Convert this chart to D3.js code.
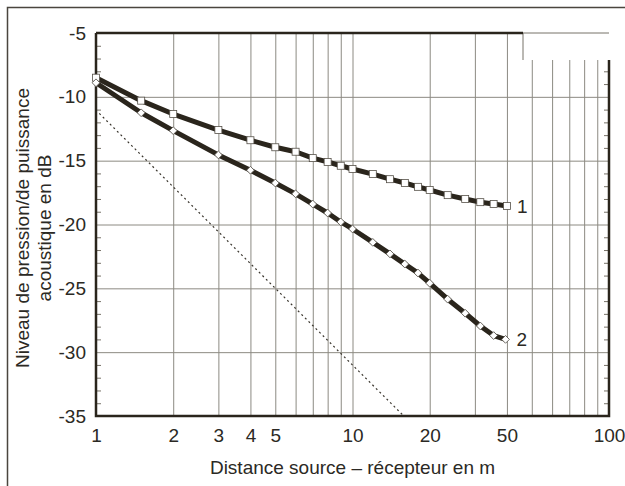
<!DOCTYPE html>
<html>
<head>
<meta charset="utf-8">
<title>Niveau de pression</title>
<script src="https://d3js.org/d3.v7.min.js"></script>
<style>
  body { margin: 0; background: #fff; }
  text { font-family: "Liberation Sans", Arial, sans-serif; fill: #2b2924; }
</style>
</head>
<body>
<div id="chart"></div>
<script>
// distance (m) on the log axis, values in dB
var dist = [1, 1.5, 2, 3, 4, 5, 6, 7, 8, 9, 10, 12, 14, 16, 18, 20, 23.5, 27.5, 31.5, 35.5, 40];
var curve1 = [-8.5, -10.3, -11.35, -12.6, -13.4, -13.95, -14.3, -14.8, -15.1, -15.4, -15.65,
              -16.05, -16.45, -16.75, -17.05, -17.3, -17.7, -18.0, -18.25, -18.4, -18.55];
var dist2 = [1, 1.5, 2, 3, 4, 5, 6, 7, 8, 9, 10, 12, 14, 16, 18, 20, 23.5, 27.5, 31.5, 35.5, 39.5];
var curve2 = [-8.9, -11.25, -12.65, -14.55, -15.75, -16.75, -17.6, -18.4, -19.1, -19.8, -20.35,
              -21.4, -22.3, -23.1, -23.8, -24.6, -25.85, -26.95, -27.95, -28.7, -29.0];
// reference line, -20 dB per decade
var refDist = [1.03, 15.85];
var refLevel = [-11.3, -35];

var xTickVals = [1, 2, 3, 4, 5, 10, 20, 40, 100];
var xTickLabels = ["1", "2", "3", "4", "5", "10", "20", "50", "100"];
var yTicks = [-5, -10, -15, -20, -25, -30, -35];
var xGrid = [2, 3, 4, 5, 6, 7, 8, 9, 10, 20, 30, 40, 50, 60, 70, 80, 90];
var yGrid = [-10, -15, -20, -25, -30];
var yMinor = d3.range(-34, -5).filter(function(d) { return d % 5 != 0; });

var W = 625, H = 486;
var pLeft = 96, pRight = 609, pTop = 33, pBottom = 416;
var ink = "#2a251c";
var fs = 19;

var svg = d3.select("#chart").append("svg")
  .attr("width", W).attr("height", H);

// outer frame
svg.append("path")
  .attr("d", "M7.5," + H + "V7.5H" + W)
  .attr("fill", "none").attr("stroke", "#4a463e").attr("stroke-width", 1.5);

var x = d3.scaleLog().domain([1, 100]).range([pLeft, pRight]);
var y = d3.scaleLinear().domain([-35, -5]).range([pBottom, pTop]);

// grid
svg.append("g")
  .attr("transform", "translate(0," + pBottom + ")")
  .call(d3.axisBottom(x).tickValues(xGrid).tickSize(-(pBottom - pTop)).tickFormat(""))
  .call(function(g) {
    g.select(".domain").remove();
    g.selectAll("line").attr("stroke", "#8c8a82").attr("stroke-width", 1);
  });
svg.append("g")
  .attr("transform", "translate(" + pLeft + ",0)")
  .call(d3.axisLeft(y).tickValues(yGrid).tickSize(-(pRight - pLeft)).tickFormat(""))
  .call(function(g) {
    g.select(".domain").remove();
    g.selectAll("line").attr("stroke", "#8c8a82").attr("stroke-width", 1);
  });

// white box in the top right corner
var boxX = 523, boxY = 60;
svg.append("rect")
  .attr("x", boxX).attr("y", pTop - 3).attr("width", W - boxX).attr("height", boxY - pTop + 3)
  .attr("fill", "#fff");
svg.append("path")
  .attr("d", "M" + boxX + "," + pTop + "V" + boxY + "M" + boxX + "," + pTop + "H" + pRight)
  .attr("fill", "none").attr("stroke", "#777268").attr("stroke-width", 1);

// minor ticks, left and right
svg.append("g")
  .attr("transform", "translate(" + pLeft + ",0)")
  .call(d3.axisRight(y).tickValues(yMinor).tickSize(5).tickFormat(""))
  .call(function(g) {
    g.select(".domain").remove();
    g.selectAll("line").attr("stroke", "#777268");
  });
svg.append("g")
  .attr("transform", "translate(" + pRight + ",0)")
  .call(d3.axisLeft(y).tickValues(yMinor.filter(function(d) { return y(d) > boxY; })).tickSize(5).tickFormat(""))
  .call(function(g) {
    g.select(".domain").remove();
    g.selectAll("line").attr("stroke", "#777268");
  });

// plot border
svg.append("path")
  .attr("d", "M" + pLeft + "," + pTop + "V" + pBottom + "H" + pRight + "V" + boxY
        + "M" + pLeft + "," + pTop + "H" + boxX)
  .attr("fill", "none").attr("stroke", ink).attr("stroke-width", 2.5);

// tick labels
svg.append("g")
  .attr("transform", "translate(0," + pBottom + ")")
  .call(d3.axisBottom(x).tickValues(xTickVals).tickSize(0).tickPadding(13)
        .tickFormat(function(d, i) { return xTickLabels[i]; }))
  .call(function(g) {
    g.select(".domain").remove();
    g.selectAll("text").attr("font-size", fs).attr("font-family", "Liberation Sans, Arial, sans-serif")
      .attr("fill", "#2b2924");
  });
svg.append("g")
  .attr("transform", "translate(" + pLeft + ",0)")
  .call(d3.axisLeft(y).tickValues(yTicks).tickSize(0).tickPadding(10)
        .tickFormat(function(d) { return String(d); }))
  .call(function(g) {
    g.select(".domain").remove();
    g.selectAll("text").attr("font-size", fs).attr("font-family", "Liberation Sans, Arial, sans-serif")
      .attr("fill", "#2b2924");
  });

// axis titles
svg.append("text")
  .attr("x", (pLeft + pRight) / 2).attr("y", 474)
  .attr("text-anchor", "middle").attr("font-size", fs)
  .text("Distance source \u2013 récepteur en m");
var yt = svg.append("text")
  .attr("transform", "translate(29,228) rotate(-90)")
  .attr("text-anchor", "middle").attr("font-size", fs);
yt.append("tspan").attr("x", 0).attr("dy", 0).text("Niveau de pression/de puissance");
yt.append("tspan").attr("x", 0).attr("dy", 22).text("acoustique en dB");

// reference dashed line
var line = d3.line().x(function(d) { return x(d[0]); }).y(function(d) { return y(d[1]); });
var refData = refDist.map(function(d, i) { return [d, refLevel[i]]; });
svg.append("path")
  .datum(refData)
  .attr("fill", "none").attr("stroke", "#3a362e").attr("stroke-width", 1.2)
  .attr("stroke-dasharray", "2,3")
  .attr("d", line);

var data1 = dist.map(function(d, i) { return [d, curve1[i]]; });
var data2 = dist2.map(function(d, i) { return [d, curve2[i]]; });

[data1, data2].forEach(function(data) {
  svg.append("path")
    .datum(data)
    .attr("fill", "none").attr("stroke", ink).attr("stroke-width", 5)
    .attr("stroke-linejoin", "round")
    .attr("d", line);
});

// markers: squares on curve 1, diamonds on curve 2
svg.append("g").selectAll("rect")
  .data(data1).enter().append("rect")
  .attr("x", function(d) { return x(d[0]) - 3.5; })
  .attr("y", function(d) { return y(d[1]) - 3.5; })
  .attr("width", 7).attr("height", 7)
  .attr("fill", "#fff").attr("stroke", "#555048").attr("stroke-width", 0.8);

svg.append("g").selectAll("path")
  .data(data2).enter().append("path")
  .attr("d", d3.symbol().type(d3.symbolSquare).size(30))
  .attr("transform", function(d) { return "translate(" + x(d[0]) + "," + y(d[1]) + ") rotate(45)"; })
  .attr("fill", "#fff").attr("stroke", "#555048").attr("stroke-width", 0.8);

// curve labels
svg.append("text")
  .attr("x", x(dist[dist.length - 1]) + 10).attr("y", y(curve1[curve1.length - 1]) + 7)
  .attr("font-size", fs).text("1");
svg.append("text")
  .attr("x", x(dist2[dist2.length - 1]) + 11).attr("y", y(curve2[curve2.length - 1]) + 7)
  .attr("font-size", fs).text("2");
</script>
</body>
</html>
